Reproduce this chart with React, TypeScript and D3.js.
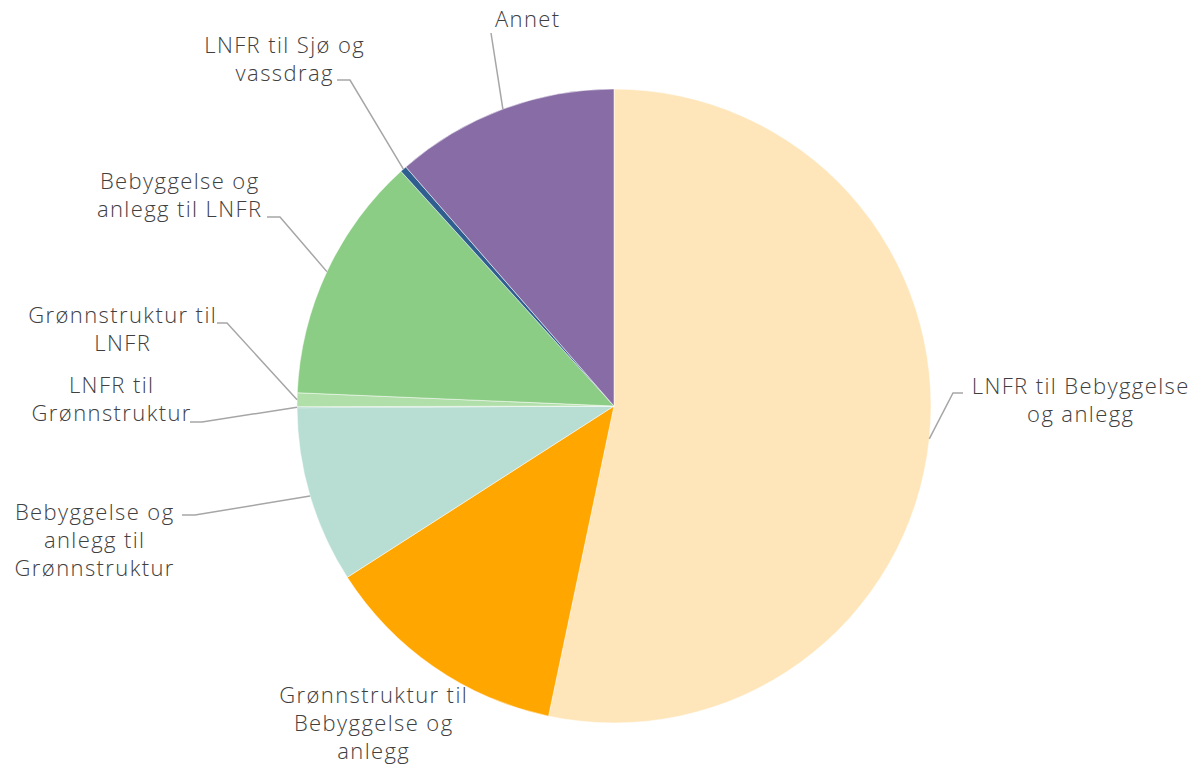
import React from "react";
import * as d3 from "d3";

const categories = [
  "LNFR til Bebyggelse og anlegg",
  "Grønnstruktur til Bebyggelse og anlegg",
  "Bebyggelse og anlegg til Grønnstruktur",
  "LNFR til Grønnstruktur",
  "Grønnstruktur til LNFR",
  "Bebyggelse og anlegg til LNFR",
  "LNFR til Sjø og vassdrag",
  "Annet",
];
const values = [53.3, 12.6, 9.0, 0.05, 0.7, 12.6, 0.33, 11.4];
const colors = ["#FFE6BA", "#FFA600", "#B8DED4", "#6FB8A8", "#B1DFAA", "#8CCD85", "#2F5F8F", "#876CA6"];

// label text lines (wrapped as in the reference)
const labelLines = [
  ["LNFR til Bebyggelse", "og anlegg"],
  ["Grønnstruktur til", "Bebyggelse og", "anlegg"],
  ["Bebyggelse og", "anlegg til", "Grønnstruktur"],
  ["LNFR til", "Grønnstruktur"],
  ["Grønnstruktur til", "LNFR"],
  ["Bebyggelse og", "anlegg til LNFR"],
  ["LNFR til Sjø og", "vassdrag"],
  ["Annet"],
];

// layout: label centre x, first baseline y, leader start and elbow (null = none)
type Layout = { x: number; y: number; start: [number, number] | null; elbow: [number, number] | null };
const layout: Layout[] = [
  { x: 1080, y: 394, start: [963, 393], elbow: [953, 393] },
  { x: 373, y: 703, start: null, elbow: null },
  { x: 94, y: 520, start: [182, 515], elbow: [195, 515] },
  { x: 111, y: 393, start: [190, 422], elbow: [202, 422] },
  { x: 122, y: 323, start: [217, 323], elbow: [227, 323] },
  { x: 179, y: 189, start: [267, 217], elbow: [280, 217] },
  { x: 284, y: 53, start: [337, 80], elbow: [350, 80] },
  { x: 527, y: 27, start: [491, 33], elbow: null },
];

const W = 1203;
const H = 769;
const CX = 614;
const CY = 406;
const R = 317;
const LINE_H = 28;
const LS = 1.4;

export default function App() {
  const pie = d3.pie<number>().sort(null).value((d) => d);
  const arcs = pie(values);
  const arcGen = d3.arc<d3.PieArcDatum<number>>().innerRadius(0).outerRadius(R);

  return (
    <svg
      width={W}
      height={H}
      style={{ position: "absolute", left: 0, top: 0, background: "#fff" }}
      fontFamily="'Open Sans', sans-serif"
    >
      <g transform={`translate(${CX},${CY})`}>
        {arcs.map((a, i) => (
          <path key={i} d={arcGen(a) || ""} fill={colors[i]} stroke="#fff" strokeWidth={0.5} />
        ))}
      </g>
      {arcs.map((a, i) => {
        const L = layout[i];
        if (!L.start) return null;
        const mid = (a.startAngle + a.endAngle) / 2;
        const ex = CX + R * Math.sin(mid);
        const ey = CY - R * Math.cos(mid);
        const pts: [number, number][] = [L.start];
        if (L.elbow) pts.push(L.elbow);
        pts.push([ex, ey]);
        return (
          <polyline
            key={"l" + i}
            points={pts.map((p) => p.join(",")).join(" ")}
            fill="none"
            stroke="#A6A6A6"
            strokeWidth={1.5}
          />
        );
      })}
      {labelLines.map((lines, i) => (
        <text
          key={"t" + i}
          x={layout[i].x + LS / 2}
          y={layout[i].y}
          textAnchor="middle"
          fontSize={22}
          fontWeight={300}
          letterSpacing={LS}
          fill="#404040"
        >
          {lines.map((ln, j) => (
            <tspan key={j} x={layout[i].x + LS / 2} dy={j === 0 ? 0 : LINE_H}>
              {ln}
            </tspan>
          ))}
        </text>
      ))}
    </svg>
  );
}
